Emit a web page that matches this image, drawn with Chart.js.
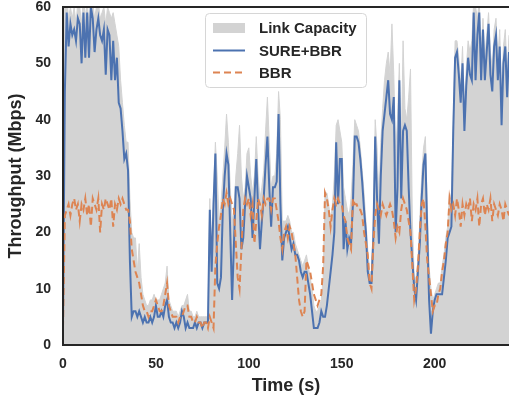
<!DOCTYPE html>
<html>
<head>
<meta charset="utf-8">
<script src="https://cdn.jsdelivr.net/npm/chart.js@4.4.1/dist/chart.umd.min.js"></script>
<style>
html, body { margin: 0; padding: 0; background: #ffffff; }
#wrap { width: 509px; height: 403px; }
</style>
</head>
<body>
<div id="wrap"><canvas id="grafico" width="509" height="403"></canvas></div>
<script>
// sample clock, one point per second
const tiempos = Array.from({length: 241}, (_, i) => i);

const capacidad = [
8, 62, 62, 58, 60, 58, 60, 57, 61, 60,
57, 62, 58, 61, 57, 62, 61, 58, 60, 61,
58, 59, 60, 57, 60, 59, 58, 59, 57, 55,
53, 47, 43, 39, 36, 36, 26, 20, 19, 19,
13, 18, 12, 9, 8, 7, 7, 8, 8, 9,
8, 8, 8, 9, 10, 11, 14, 8, 7, 6,
6, 6, 5, 6, 7, 7, 8, 9, 6, 6,
5, 5, 6, 5, 5, 5, 5, 5, 5, 26,
16, 27, 36, 30, 22, 25, 30, 35, 41, 36,
28, 22, 24, 30, 34, 39, 30, 26, 28, 34,
35, 30, 27, 30, 37, 30, 26, 28, 31, 38,
44, 36, 28, 30, 30, 34, 45, 40, 22, 22,
22, 23, 22, 20, 20, 18, 17, 16, 15, 14,
15, 16, 14, 12, 10, 7, 6, 6, 7, 8,
12, 27, 27, 25, 22, 25, 30, 39, 40, 38,
36, 28, 26, 24, 23, 26, 32, 40, 39, 38,
35, 31, 27, 22, 17, 13, 13, 22, 40, 35,
26, 36, 42, 47, 50, 52, 48, 57, 48, 34,
40, 50, 34, 54, 42, 40, 44, 49, 22, 12,
12, 15, 22, 30, 35, 37, 25, 14, 10, 8,
9, 10, 11, 11, 14, 16, 19, 21, 27, 26,
40, 54, 54, 51, 46, 53, 42, 49, 54, 52,
54, 61, 60, 58, 61, 52, 58, 51, 55, 59,
52, 49, 56, 58, 51, 56, 44, 53, 56, 48,
55
];

const sureBbr = [
4, 45, 59, 53, 57, 55, 56, 54, 58, 57,
50, 59, 51, 59, 51, 60, 58, 52, 56, 58,
55, 54, 56, 48, 56, 55, 47, 54, 47, 51,
43, 42, 38, 33, 34, 31, 15, 5, 6, 6,
5, 6, 5, 4, 5, 4, 4, 5, 4, 5,
7, 5, 5, 6, 5, 7, 8, 5, 4, 4,
3, 4, 3, 4, 6, 5, 3, 4, 3, 3,
3, 4, 3, 4, 4, 3, 4, 4, 4, 24,
13, 25, 34, 11, 10, 12, 24, 30, 34, 32,
20, 8, 18, 28, 28, 26, 17, 19, 25, 30,
28, 26, 19, 26, 33, 24, 17, 22, 26, 32,
37, 28, 21, 28, 28, 29, 41, 25, 15, 19,
20, 21, 19, 17, 18, 16, 16, 15, 13, 12,
13, 13, 11, 9, 6, 3, 3, 3, 4, 6,
5, 5, 7, 10, 13, 16, 20, 36, 25, 33,
33, 17, 22, 17, 19, 18, 25, 37, 37, 36,
33, 29, 24, 20, 13, 11, 11, 19, 37, 26,
18, 30, 38, 41, 44, 47, 41, 40, 44, 20,
28, 47, 26, 38, 39, 38, 28, 20, 15, 10,
8, 13, 18, 26, 32, 34, 20, 8, 2, 6,
8, 9, 9, 9, 9, 12, 15, 19, 20, 21,
38, 51, 52, 48, 43, 50, 38, 46, 51, 48,
47, 59, 47, 55, 59, 47, 56, 47, 52, 57,
48, 45, 53, 55, 47, 53, 39, 50, 53, 44,
52
];

const bbr = [
3, 23, 24, 25, 23, 25, 26, 24, 25, 22,
25, 24, 26, 23, 25, 21, 26, 25, 24, 26,
20, 25, 24, 26, 25, 24, 26, 21, 25, 24,
26, 25, 26, 25, 24, 24, 22, 17, 15, 13,
12, 11, 9, 7, 6, 6, 5, 6, 6, 7,
8, 7, 6, 6, 7, 9, 11, 7, 6, 5,
5, 5, 4, 5, 5, 6, 7, 7, 5, 5,
4, 4, 5, 4, 4, 3, 4, 4, 3, 5,
4, 3, 14, 18, 21, 23, 26, 25, 27, 25,
26, 25, 24, 18, 12, 10, 17, 24, 26, 25,
26, 23, 25, 18, 22, 26, 25, 23, 26, 25,
26, 26, 24, 26, 26, 24, 22, 19, 17, 20,
21, 19, 21, 20, 18, 16, 12, 8, 6, 5,
6, 15, 14, 13, 11, 9, 8, 7, 8, 9,
14, 27, 26, 24, 21, 24, 26, 25, 26, 25,
25, 23, 22, 19, 18, 17, 26, 25, 25, 24,
24, 23, 20, 18, 16, 11, 10, 18, 23, 25,
24, 23, 25, 24, 23, 24, 25, 24, 22, 19,
21, 20, 24, 26, 25, 24, 22, 20, 14, 8,
10, 14, 20, 25, 26, 21, 15, 12, 9, 6,
7, 7, 9, 10, 13, 15, 18, 20, 26, 24,
25, 23, 26, 24, 21, 25, 23, 25, 24, 26,
22, 25, 24, 26, 21, 25, 26, 23, 25, 24,
26, 22, 25, 24, 23, 25, 24, 22, 25, 24,
23
];

const ticksX = [0, 50, 100, 150, 200];
const ticksY = [0, 10, 20, 30, 40, 50, 60];

const colorTexto = "#262626";
const fuente = "'Liberation Sans', Arial, sans-serif";

const aPuntos = (serie) => serie.map((v, i) => ({x: tiempos[i], y: v}));

// frame: left, top and bottom (right edge is cut by the figure)
const marcoPlugin = {
id: "marco",
afterDatasetsDraw(chart){
const {ctx, chartArea: a} = chart;
ctx.save();
ctx.strokeStyle = colorTexto;
ctx.lineWidth = 2;
ctx.beginPath();
ctx.moveTo(a.right + 2, a.top);
ctx.lineTo(a.left, a.top);
ctx.lineTo(a.left, a.bottom);
ctx.lineTo(a.right + 2, a.bottom);
ctx.stroke();
ctx.restore();
}
};

// legend drawn inside the plot, like the original
const leyendaPlugin = {
id: "leyendaInterna",
afterDraw(chart){
const ctx = chart.ctx;
const items = chart.data.datasets;
const x0 = 205.5, y0 = 13.5, w = 161, h = 74;
ctx.save();
ctx.beginPath();
ctx.roundRect(x0, y0, w, h, 4);
ctx.fillStyle = "rgba(255,255,255,0.85)";
ctx.fill();
ctx.strokeStyle = "#d6d6d6";
ctx.lineWidth = 1;
ctx.stroke();

ctx.font = "bold 15px " + fuente;
ctx.textBaseline = "middle";
ctx.fillStyle = colorTexto;

const filas = [28, 50.5, 72.5];
items.forEach((ds, i) => {
const y = filas[i];
if (ds.fill) {
ctx.fillStyle = ds.backgroundColor;
ctx.fillRect(213, y - 5, 32, 10);
} else {
ctx.beginPath();
ctx.strokeStyle = ds.borderColor;
ctx.lineWidth = 2;
ctx.setLineDash(ds.borderDash || []);
ctx.moveTo(213, y);
ctx.lineTo(245, y);
ctx.stroke();
ctx.setLineDash([]);
}
ctx.fillStyle = colorTexto;
ctx.fillText(ds.label, 259, y + 1);
});
ctx.restore();
}
};

new Chart(document.getElementById("grafico"), {
type: "line",
data: {
datasets: [
{
label: "Link Capacity",
data: aPuntos(capacidad),
borderColor: "#d3d3d3",
backgroundColor: "#d3d3d3",
borderWidth: 1,
fill: "origin",
pointRadius: 0,
order: 3
},
{
label: "SURE+BBR",
data: aPuntos(sureBbr),
borderColor: "#4c72b0",
borderWidth: 2,
fill: false,
pointRadius: 0,
order: 2
},
{
label: "BBR",
data: aPuntos(bbr),
borderColor: "#dd8452",
borderWidth: 2,
borderDash: [7, 4],
fill: false,
pointRadius: 0,
order: 1
}
]
},
options: {
responsive: false,
animation: false,
layout: {padding: {top: 7, right: 0, left: 0, bottom: 0}},
plugins: {
legend: {display: false},
tooltip: {enabled: false}
},
scales: {
x: {
type: "linear",
min: 0,
max: 240,
grid: {display: false, drawTicks: false},
border: {display: false},
afterBuildTicks: (s) => { s.ticks = ticksX.map(v => ({value: v})); },
ticks: {
color: colorTexto,
padding: 11,
maxRotation: 0,
font: {family: fuente, size: 14, weight: "bold"}
},
title: {
display: true,
text: "Time (s)",
color: colorTexto,
padding: {top: 0, bottom: 6},
font: {family: fuente, size: 18, weight: "bold"}
},
afterFit: (s) => { s.height = 58; s.paddingLeft = 0; s.paddingRight = 0; }
},
y: {
min: 0,
max: 60,
grid: {display: false, drawTicks: false},
border: {display: false},
afterBuildTicks: (s) => { s.ticks = ticksY.map(v => ({value: v})); },
ticks: {
color: colorTexto,
padding: 12,
font: {family: fuente, size: 14, weight: "bold"}
},
title: {
display: true,
text: "Throughput (Mbps)",
color: colorTexto,
padding: {top: 5, bottom: 0},
font: {family: fuente, size: 18, weight: "bold"}
},
afterFit: (s) => { s.width = 63; s.paddingTop = 0; s.paddingBottom = 0; }
}
}
},
plugins: [marcoPlugin, leyendaPlugin]
});
</script>
</body>
</html>
